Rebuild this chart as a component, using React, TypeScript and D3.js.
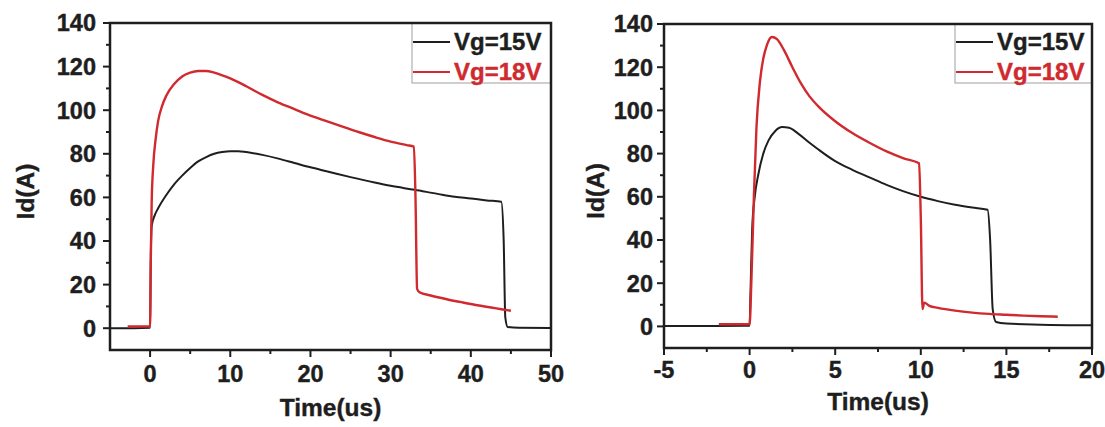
import React from 'react';
import * as d3 from 'd3';

// ---- data (time in us, current in A) ----
const leftVg15: [number, number][] = [
    [-5, 0], [-2, 0], [0, 0.2], [0.08, 30], [0.2, 47], [0.6, 52], [1, 55], [2, 61], [3, 66],
    [4, 70], [5, 73.5], [6, 76.5], [7, 78.5], [8, 80], [9, 80.8], [10, 81.2], [11, 81.2],
    [12, 80.8], [14, 79.5], [16, 77.8], [18, 75.8], [20, 73.8], [22, 72], [25, 69.3],
    [28, 66.8], [30, 65.3], [33, 63.5], [36, 61.5], [38, 60.3], [40, 59.5], [42, 58.6],
    [43.8, 58], [44.1, 40], [44.3, 5], [44.6, 0.6], [46, 0.2], [50, 0.1]
];
const leftVg18: [number, number][] = [
    [-2.8, 0.8], [-1, 0.8], [0, 0.8], [0.08, 30], [0.2, 58], [0.4, 75], [0.7, 87], [1, 95],
    [1.5, 102], [2, 106.5], [3, 112], [4, 115.5], [5, 117.2], [6, 118], [7, 118], [8, 117.2],
    [9, 116], [10, 114.6], [12, 111], [14, 107], [16, 103.5], [18, 100.5], [20, 97.5],
    [22, 95], [24, 92.5], [26, 90], [28, 87.7], [30, 85.6], [32, 84], [32.9, 83.3],
    [33.1, 60], [33.3, 18], [33.6, 16.5], [35, 15], [37, 13.3], [39, 11.8], [41, 10.4],
    [43, 9.2], [45, 8]
];
const rightVg15: [number, number][] = [
    [-5, 0.2], [-2, 0.2], [0, 0.3], [0.05, 15], [0.15, 45], [0.3, 60], [0.5, 70], [0.8, 80],
    [1.1, 86], [1.5, 90.5], [1.9, 92.3], [2.3, 92], [2.8, 89.5], [3.5, 85], [4, 82],
    [5, 76.5], [6, 72.5], [7, 69], [8, 65.5], [9, 62.5], [10, 60], [11, 58], [12, 56.3],
    [13, 55], [13.9, 54], [14.05, 40], [14.2, 8], [14.4, 2], [15, 1.3], [17, 0.8], [20, 0.5]
];
const rightVg18: [number, number][] = [
    [-1.8, 1], [-1, 1], [0, 1], [0.1, 20], [0.25, 60], [0.4, 92], [0.6, 113], [0.8, 124],
    [1, 130], [1.3, 134], [1.6, 133], [2, 128], [2.5, 120], [3, 112.5], [3.5, 106.5],
    [4, 102], [5, 95], [6, 89.5], [7, 85], [8, 81], [9, 77.8], [9.9, 75.5], [10, 50],
    [10.1, 8], [10.2, 11], [10.5, 9.5], [11, 8.6], [12, 7.3], [13, 6.4], [14, 5.8],
    [15, 5.4], [16, 5], [17, 4.7], [18, 4.5]
];

const leftXTicks = [0, 10, 20, 30, 40, 50];
const leftXMinor = [5, 15, 25, 35, 45];
const rightXTicks = [-5, 0, 5, 10, 15, 20];
const rightXMinor = [-2.5, 2.5, 7.5, 12.5, 17.5];
const yTicks = [0, 20, 40, 60, 80, 100, 120, 140];
const yMinor = [10, 30, 50, 70, 90, 110, 130];

const legendNames = ['Vg=15V', 'Vg=18V'];
const BLACK = '#1e1e1e';
const RED = '#d02a2f';
const FONT = '"Liberation Sans", Arial, sans-serif';

type PanelProps = {
    x0: number; x1: number; y0: number; y1: number;
    xDomain: [number, number];
    xTicks: number[]; xMinor: number[];
    black: [number, number][]; red: [number, number][];
    xLabelY: number; titleY: number; yTitleX: number; yLabelGap: number;
    legendX: number;
};

const Panel = (p: PanelProps) => {
    const x = d3.scaleLinear().domain(p.xDomain).range([p.x0, p.x1]);
    const y = d3.scaleLinear().domain([-10, 140]).range([p.y1, p.y0]);

    const line = d3.line<[number, number]>()
        .x(d => x(d[0]))
        .y(d => y(d[1]))
        .curve(d3.curveMonotoneX);

    const midX = (p.x0 + p.x1) / 2;
    const midY = (p.y0 + p.y1) / 2;
    const lg = { t: p.y0, b: 83, l: p.legendX };

    return (
        <g fontFamily={FONT} fontWeight="bold">
            {/* curves */}
            <path d={line(p.black) || ''} fill="none" stroke={BLACK} strokeWidth={2} />
            <path d={line(p.red) || ''} fill="none" stroke={RED} strokeWidth={2.4} />

            {/* legend */}
            <rect x={lg.l} y={lg.t} width={p.x1 - lg.l} height={lg.b - lg.t}
                  fill="#fff" stroke="#a0a0a0" strokeWidth={1} />
            {legendNames.map((n, i) => (
                <g key={n}>
                    <line x1={lg.l + 1} x2={lg.l + 38} y1={42 + i * 30} y2={42 + i * 30}
                          stroke={i ? RED : BLACK} strokeWidth={2} />
                    <text x={lg.l + 42} y={50 + i * 30} fontSize={24} stroke={i ? RED : BLACK}
                          strokeWidth={0.4} fill={i ? RED : BLACK}>{n}</text>
                </g>
            ))}

            {/* frame */}
            <rect x={p.x0} y={p.y0} width={p.x1 - p.x0} height={p.y1 - p.y0}
                  fill="none" stroke={BLACK} strokeWidth={2.5} />

            {/* y ticks */}
            {yTicks.map(d => (
                <g key={'y' + d} transform={`translate(${p.x0},${y(d)})`}>
                    <line x1={-7} x2={0} stroke={BLACK} strokeWidth={2} />
                    <text x={-p.yLabelGap} dy="0.36em" textAnchor="end" fontSize={23.5}
                          stroke={BLACK} strokeWidth={0.4} fill={BLACK}>{d}</text>
                </g>
            ))}
            {yMinor.map(d => (
                <line key={'ym' + d} x1={p.x0 - 4} x2={p.x0} y1={y(d)} y2={y(d)}
                      stroke={BLACK} strokeWidth={2} />
            ))}

            {/* x ticks */}
            {p.xTicks.map(d => (
                <g key={'x' + d} transform={`translate(${x(d)},${p.y1})`}>
                    <line y1={0} y2={7} stroke={BLACK} strokeWidth={2} />
                    <text y={p.xLabelY - p.y1} textAnchor="middle" fontSize={23.5}
                          stroke={BLACK} strokeWidth={0.4} fill={BLACK}>{d}</text>
                </g>
            ))}
            {p.xMinor.map(d => (
                <line key={'xm' + d} x1={x(d)} x2={x(d)} y1={p.y1} y2={p.y1 + 4}
                      stroke={BLACK} strokeWidth={2} />
            ))}

            {/* axis titles */}
            <text x={midX} y={p.titleY} textAnchor="middle" fontSize={24.5}
                  stroke={BLACK} strokeWidth={0.4} fill={BLACK}>Time(us)</text>
            <text transform={`translate(${p.yTitleX},${midY + 5}) rotate(-90)`} textAnchor="middle"
                  dy="0.36em" fontSize={24.5} stroke={BLACK} strokeWidth={0.4} fill={BLACK}>Id(A)</text>
        </g>
    );
};

export default function App() {
    return (
        <svg width={1105} height={427} style={{ position: 'absolute', left: 0, top: 0, background: '#fff' }}>
            <Panel x0={110} x1={551} y0={23} y1={350} xDomain={[-5, 50]}
                   xTicks={leftXTicks} xMinor={leftXMinor} black={leftVg15} red={leftVg18}
                   xLabelY={382} titleY={416} yTitleX={25} yLabelGap={14} legendX={412} />
            <Panel x0={664} x1={1092} y0={24} y1={348} xDomain={[-5, 20]}
                   xTicks={rightXTicks} xMinor={rightXMinor} black={rightVg15} red={rightVg18}
                   xLabelY={378} titleY={410} yTitleX={595} yLabelGap={11} legendX={955} />
        </svg>
    );
}
